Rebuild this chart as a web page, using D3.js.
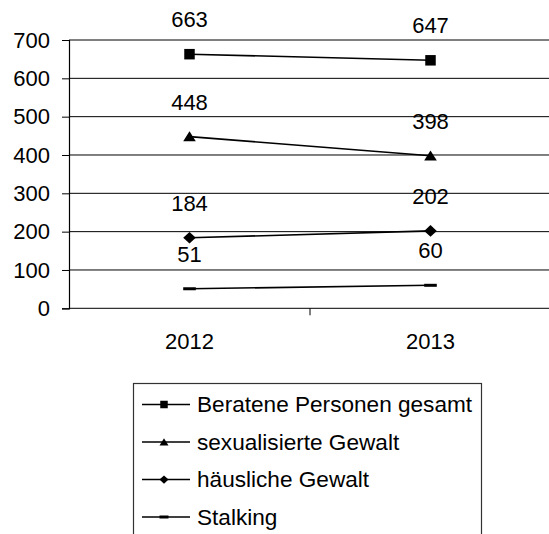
<!DOCTYPE html>
<html>
<head>
<meta charset="utf-8">
<script src="https://cdn.jsdelivr.net/npm/d3@7"></script>
<style>
  html, body { margin: 0; padding: 0; background: #fff; }
  svg { display: block; font-family: "Liberation Sans", Arial, sans-serif; }
</style>
</head>
<body>
<svg id="chart" width="549" height="534"></svg>
<script>
// Jahre
const years = ["2012", "2013"];

// Beratungszahlen je Bereich
const beratenePersonen = [663, 647];
const sexualisierteGewalt = [448, 398];
const haeuslicheGewalt = [184, 202];
const stalking = [51, 60];

const seriesNames = ["Beratene Personen gesamt", "sexualisierte Gewalt", "häusliche Gewalt", "Stalking"];
const seriesMarkers = ["square", "triangle", "diamond", "dash"];

const yTicks = [0, 100, 200, 300, 400, 500, 600, 700];

const series = [beratenePersonen, sexualisierteGewalt, haeuslicheGewalt, stalking].map((values, i) => ({
  name: seriesNames[i],
  marker: seriesMarkers[i],
  values: values.map((v, j) => ({ year: years[j], value: v }))
}));

const svg = d3.select("#chart");
const plot = { left: 69, right: 551, top: 40, bottom: 308.3 };
const fontSize = "22px";

const x = d3.scaleBand().domain(years).range([plot.left, plot.right]);
const y = d3.scaleLinear().domain([0, 700]).range([plot.bottom, plot.top]);
const cx = d => x(d) + x.bandwidth() / 2;

// Horizontale Gitternetzlinien
svg.append("g")
  .selectAll("line")
  .data(yTicks)
  .join("line")
  .attr("x1", plot.left)
  .attr("x2", 549)
  .attr("y1", d => y(d))
  .attr("y2", d => y(d))
  .attr("stroke", "#000")
  .attr("stroke-width", 1);

// Y-Achse
const yAxis = svg.append("g")
  .attr("transform", `translate(${plot.left},0)`)
  .call(d3.axisLeft(y).tickValues(yTicks).tickSize(7).tickPadding(12));
yAxis.select(".domain").attr("stroke", "#000").attr("stroke-width", 1.2);
yAxis.selectAll(".tick line").attr("stroke", "#000");
yAxis.selectAll(".tick text")
  .attr("fill", "#000")
  .style("font-size", fontSize)
  .style("font-family", "Liberation Sans, Arial, sans-serif");

// X-Achse
const xAxis = svg.append("g")
  .attr("transform", `translate(0,${plot.bottom})`)
  .call(d3.axisBottom(x).tickSize(0));
xAxis.select(".domain").remove();
xAxis.selectAll(".tick text")
  .attr("y", 41)
  .attr("dy", 0)
  .attr("fill", "#000")
  .style("font-size", fontSize)
  .style("font-family", "Liberation Sans, Arial, sans-serif");

// Teilstriche zwischen den Kategorien
svg.append("g")
  .selectAll("line")
  .data(years)
  .join("line")
  .attr("x1", d => x(d) + x.bandwidth())
  .attr("x2", d => x(d) + x.bandwidth())
  .attr("y1", plot.bottom)
  .attr("y2", plot.bottom + 7)
  .attr("stroke", "#000");

// Markerformen
function markerPath(type, s) {
  switch (type) {
    case "square":
      return `M${-s / 2},${-s / 2}h${s}v${s}h${-s}Z`;
    case "triangle":
      return `M0,${-s * 0.5}L${s * 0.6},${s * 0.45}L${-s * 0.6},${s * 0.45}Z`;
    case "diamond":
      return `M0,${-s * 0.55}L${s * 0.6},0L0,${s * 0.55}L${-s * 0.6},0Z`;
    case "dash":
      return `M${-s * 0.6},${-1.5}h${s * 1.2}v3h${-s * 1.2}Z`;
  }
}

const line = d3.line().x(d => cx(d.year)).y(d => y(d.value));

const g = svg.append("g")
  .selectAll("g")
  .data(series)
  .join("g");

g.append("path")
  .attr("d", d => line(d.values))
  .attr("fill", "none")
  .attr("stroke", "#000")
  .attr("stroke-width", 1.6);

g.selectAll("path.marker")
  .data(d => d.values.map(v => ({ ...v, marker: d.marker })))
  .join("path")
  .attr("class", "marker")
  .attr("transform", d => `translate(${cx(d.year)},${y(d.value)})`)
  .attr("d", d => markerPath(d.marker, 10.5))
  .attr("fill", "#000");

// Datenbeschriftungen
g.selectAll("text")
  .data(d => d.values)
  .join("text")
  .attr("x", d => cx(d.year))
  .attr("y", d => y(d.value) - 27)
  .attr("text-anchor", "middle")
  .attr("fill", "#000")
  .style("font-size", fontSize)
  .text(d => d.value);

// Legende
const legend = svg.append("g");
legend.append("rect")
  .attr("x", 133.5)
  .attr("y", 383.5)
  .attr("width", 348)
  .attr("height", 170)
  .attr("fill", "#fff")
  .attr("stroke", "#333")
  .attr("stroke-width", 1.2);

const items = legend.selectAll("g.item")
  .data(series)
  .join("g")
  .attr("class", "item")
  .attr("transform", (d, i) => `translate(0,${404.5 + i * 37.5})`);

items.append("line")
  .attr("x1", 142).attr("x2", 190)
  .attr("y1", 0).attr("y2", 0)
  .attr("stroke", "#000")
  .attr("stroke-width", 1.6);

items.append("path")
  .attr("transform", "translate(164,0)")
  .attr("d", d => markerPath(d.marker, 7.5))
  .attr("fill", "#000");

items.append("text")
  .attr("x", 197)
  .attr("y", 0)
  .attr("dy", "0.35em")
  .attr("fill", "#000")
  .style("font-size", "22.6px")
  .text(d => d.name);
</script>
</body>
</html>
